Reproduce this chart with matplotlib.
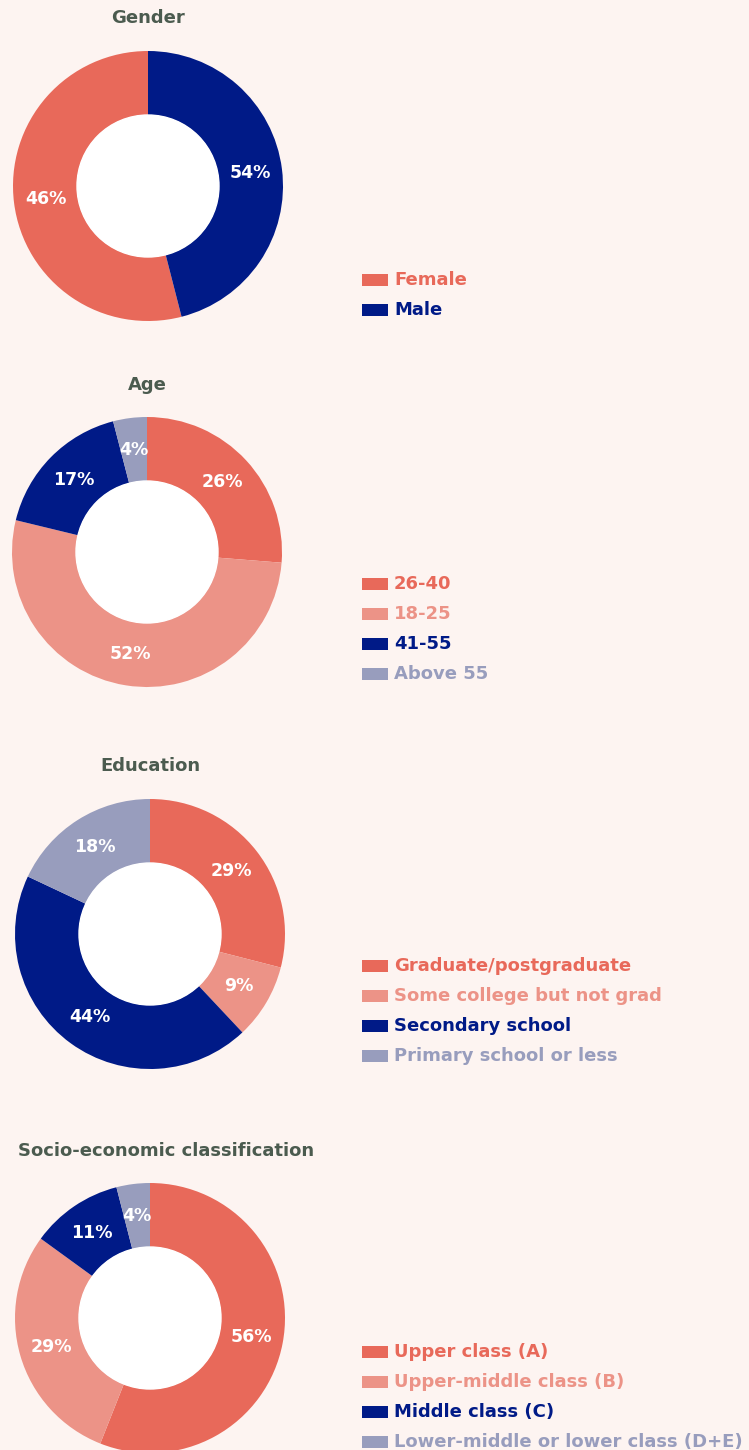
import matplotlib
matplotlib.use("Agg")
import matplotlib.pyplot as plt
from matplotlib.patches import Circle, Rectangle
import numpy as np

W, H = 749, 1450
BG = "#fdf4f1"
TITLE_C = "#4b5b4f"
CORAL, PINK, NAVY, LAV = "#e8695a", "#ec9387", "#001a87", "#989dbd"

plt.rcParams['font.family'] = ['DejaVu Sans']

# Gender (slices in the original are drawn 54/46 while labelled 46/54)
gender_cats = ["Female", "Male"]
gender_sizes = [54, 46]
gender_pct = ["46%", "54%"]

age_cats = ["26-40", "18-25", "41-55", "Above 55"]
age_sizes = [26, 52, 17, 4]
age_pct = ["26%", "52%", "17%", "4%"]

edu_cats = ["Graduate/postgraduate", "Some college but not grad",
            "Secondary school", "Primary school or less"]
edu_sizes = [29, 9, 44, 18]
edu_pct = ["29%", "9%", "44%", "18%"]

ses_cats = ["Upper class (A)", "Upper-middle class (B)", "Middle class (C)",
            "Lower-middle or lower class (D+E)"]
ses_sizes = [56, 29, 11, 4]
ses_pct = ["56%", "29%", "11%", "4%"]

fig = plt.figure(figsize=(W / 100, H / 100), dpi=100, facecolor=BG)
ax = fig.add_axes([0, 0, 1, 1])
ax.set_facecolor(BG)

R, r = 135, 71

# (title, cats, sizes, labels, colors, centre, title y, title x, legend y, counterclock)
charts = [
    ("Gender", gender_cats, gender_sizes, gender_pct, [CORAL, NAVY],
     (148, 186), 18, 148, 280, True),
    ("Age", age_cats, age_sizes, age_pct, [CORAL, PINK, NAVY, LAV],
     (147, 552), 385, 147, 584, False),
    ("Education", edu_cats, edu_sizes, edu_pct, [CORAL, PINK, NAVY, LAV],
     (150, 934), 766, 150, 966, False),
    ("Socio-economic classification", ses_cats, ses_sizes, ses_pct,
     [CORAL, PINK, NAVY, LAV], (150, 1318), 1151, 166, 1352, False),
]

for title, cats, sizes, pct, cols, (cx, cy), ty, tx, ly, ccw in charts:
    centre = (cx, H - cy)
    wedges, _ = ax.pie(sizes, colors=cols, startangle=90, counterclock=ccw,
                       radius=R, center=centre,
                       wedgeprops=dict(width=R - r, linewidth=0))
    ax.add_patch(Circle(centre, r, color="white", zorder=3))
    for w, lab in zip(wedges, pct):
        ang = np.deg2rad((w.theta1 + w.theta2) / 2)
        rl = (R + r) / 2
        ax.text(centre[0] + rl * np.cos(ang), centre[1] + rl * np.sin(ang), lab,
                color="white", fontsize=12.5, fontweight="bold",
                ha="center", va="center", zorder=4)
    ax.text(tx, H - ty, title, color=TITLE_C, fontsize=13, fontweight="bold",
            ha="center", va="center")
    for i, (c, col) in enumerate(zip(cats, cols)):
        yy = H - (ly + i * 30)
        ax.add_patch(Rectangle((362, yy - 6), 26, 12, color=col, linewidth=0))
        ax.text(394, yy, c, color=col, fontsize=13, fontweight="bold",
                ha="left", va="center")

ax.set_xlim(0, W)
ax.set_ylim(0, H)
ax.set_aspect("auto")
ax.axis("off")

fig.savefig("out.png", dpi=100, facecolor=BG)
